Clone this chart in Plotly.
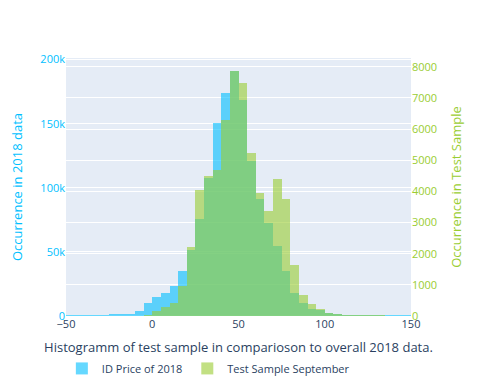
import plotly.graph_objects as go

# bin centres, width 5, from -50 to 150
bin_centers = [-47.5 + 5 * i for i in range(40)]

id_price_2018 = [150, 200, 300, 450, 600, 900, 1400, 1950, 3800, 9800,
                 14500, 17800, 23300, 35000, 51400, 75900, 108000, 150400, 173800, 191200,
                 168400, 121000, 91000, 72800, 55000, 35000, 18100, 10300, 5600, 4300,
                 2500, 1200, 600, 450, 350, 200, 150, 100, 80, 50]

test_sample_sep = [0, 0, 0, 0, 0, 0, 0, 0, 0, 20,
                   160, 283, 402, 957, 2223, 4032, 4492, 4685, 6281, 7866,
                   7480, 5244, 3936, 3367, 4386, 3743, 1622, 675, 370, 209,
                   110, 55, 25, 20, 15, 10, 5, 0, 0, 0]

fig = go.Figure()
fig.add_trace(go.Bar(
    x=bin_centers, y=id_price_2018, width=5,
    name='ID Price of 2018',
    marker=dict(color='deepskyblue', line=dict(width=0)),
    opacity=0.6,
))
fig.add_trace(go.Bar(
    x=bin_centers, y=test_sample_sep, width=5,
    name='Test Sample September',
    marker=dict(color='yellowgreen', line=dict(width=0)),
    opacity=0.6,
    yaxis='y2',
))

fig.update_layout(
    width=500, height=392,
    font=dict(size=11),
    barmode='overlay', bargap=0,
    margin=dict(l=58, r=97, t=50, b=84),
    xaxis=dict(range=[-50, 150], showgrid=False, zeroline=False, automargin=False,
               title=dict(text='Histogramm of test sample in comparioson to overall 2018 data.',
                          standoff=12)),
    yaxis=dict(automargin=False, dtick=50000,
               title=dict(text='Occurrence in 2018 data', font=dict(color='deepskyblue')),
               tickfont=dict(color='deepskyblue')),
    yaxis2=dict(automargin=False, dtick=1000,
                title=dict(text='Occurrence in Test Sample', font=dict(color='yellowgreen')),
                tickfont=dict(color='yellowgreen'),
                overlaying='y', side='right'),
    legend=dict(orientation='h', x=-0.012, y=-0.147, yanchor='top'),
)

fig.write_html("out.html")
